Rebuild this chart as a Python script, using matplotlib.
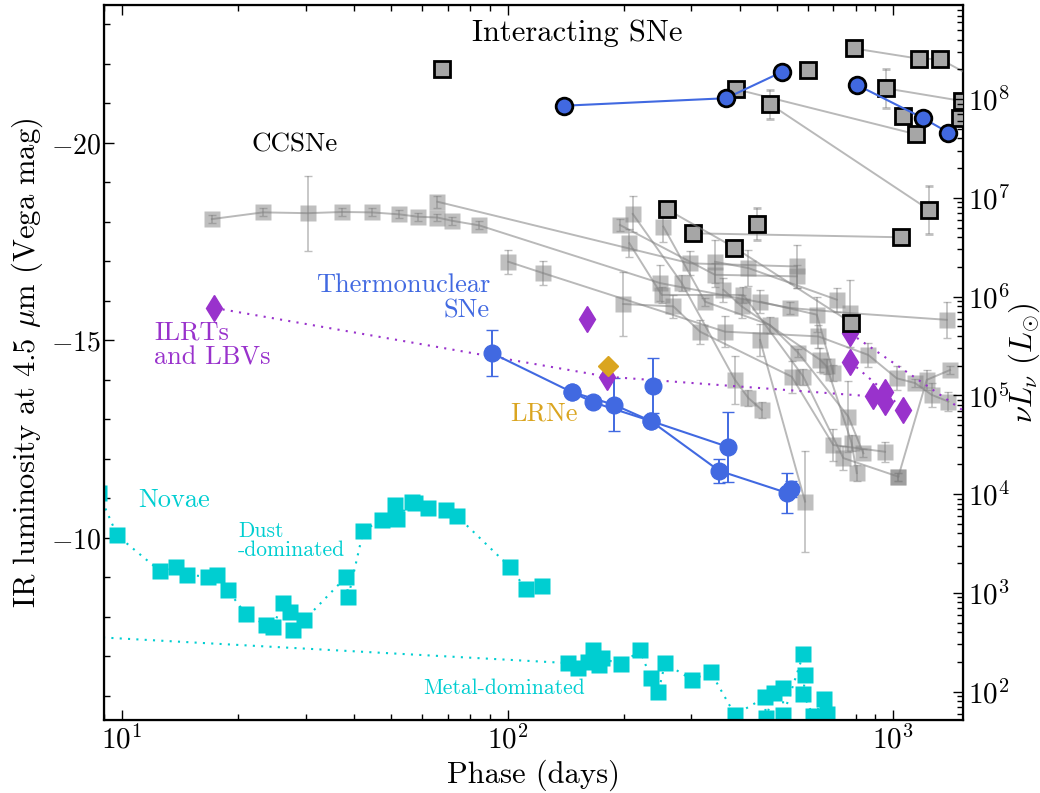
#!/usr/bin/env python3
"""Mid-IR (4.5 micron) light curves of transients vs phase, with a
second axis in nu L_nu.  Values read off the reference figure."""
import matplotlib
matplotlib.use('Agg')
import matplotlib.pyplot as plt
from matplotlib.ticker import MultipleLocator, FuncFormatter

plt.rcParams['font.family'] = 'serif'
plt.rcParams['font.serif'] = ['cmr10']
plt.rcParams['mathtext.fontset'] = 'cm'
plt.rcParams['axes.formatter.use_mathtext'] = True

#--------------------------- data --------------------------------------
# core-collapse SNe: (days, mag, err) per object
ccsn_tracks = [
    ([17.1, 23.2, 30.3, 37.3, 44.4, 52.4, 58.5, 65.8, 71.6, 84.5, 248.7, 540.5, 773.6, 1378],
     [-18.07, -18.24, -18.22, -18.25, -18.24, -18.19, -18.13, -18.11, -18.03, -17.91, -16.45, -15.82, -15.69, -15.52],
     [0.1, 0.1, 0.95, 0.1, 0.1, 0.1, 0.1, 0.1, 0.1, 0.1, 0.45, 0.15, 0.85, 0.45]),
    ([65.8, 297.4, 562.6], [-18.51, -16.95, -16.87], [0.15, 0.3, 0.55]),
    ([100.5, 123.9, 366.6, 640.2, 862.8, 1022, 1140, 1260, 1392],
     [-16.99, -16.70, -15.22, -15.10, -14.63, -14.04, -13.92, -13.62, -13.45],
     [0.3, 0.3, 0.4, 0.3, 0.3, 0.3, 0.1, 0.3, 0.25]),
    ([211.3, 283.1, 389, 421.4, 456.5], [-18.20, -16.45, -14.0, -13.54, -13.24], [0.45, 0.2, 0.6, 0.2, 0.2]),
    ([207, 251.2, 409, 585.3, 743, 1032], [-17.46, -16.15, -16.15, -14.08, -12.02, -11.55], [0.35, 0.2, 0.2, 0.2, 0.3, 0.1]),
    ([253.7, 325.3, 479.7, 568.1, 765.6, 837.5], [-17.88, -15.98, -15.39, -14.68, -13.07, -12.14], [0.4, 0.1, 0.2, 0.1, 0.9, 0.1]),
    ([195.8, 345.3, 562.6], [-17.92, -16.66, -16.62], [0.15, 0.3, 0.3]),
    ([345.3, 421.4, 714.5], [-16.99, -16.83, -16.03], [0.55, 0.45, 0.3]),
    ([199.7, 269.3, 315.8, 546.1, 700, 953.5], [-15.92, -15.86, -15.22, -14.08, -12.35, -12.18], [0.8, 0.3, 0.3, 0.4, 0.4, 0.25]),
    ([362.9, 405, 646.6, 673, 781, 805], [-16.28, -15.86, -14.51, -14.34, -12.40, -11.64], [0.3, 0.3, 0.3, 0.2, 0.2, 0.2]),
    ([451.9, 634.1, 700], [-15.98, -15.65, -14.17], [0.3, 0.45, 0.2]),
    ([451.9, 591.2], [-15.01, -10.92], [0.4, 1.27]),
    ([1032, 1223, 1406], [-11.55, -14.00, -14.25], [0.1, 0.25, 0.1]),
]

# interacting SNe
interacting_tracks = [
    ([390.8, 1145], [-21.36, -20.22], [0.1, 0.1]),
    ([479.7, 1242], [-20.98, -18.30], [0.37, 0.6]),
    ([792, 1168, 1324, 1700], [-22.39, -22.13, -22.12, -21.55], [0.1, 0.1, 0.1, 0.1]),
    ([959, 1510], [-21.38, -21.06], [0.5, 0.1]),
    ([303.4, 1047], [-17.71, -17.61], [0.1, 0.1]),
    ([258.8, 387.6, 778], [-18.32, -17.35, -15.45], [0.15, 0.1, 0.1]),
    ([67.5], [-21.87], [0.05]),
    ([600.6], [-21.84], [0.05]),
    ([443], [-17.94], [0.4]),
    ([1063], [-20.67], [0.1]),
    ([1492], [-20.63], [0.1]),
]

# SNe Ia-CSM (interacting thermonuclear)
iacsm_tracks = [
    ([140.2, 368.8, 516.4], [-20.94, -21.13, -21.80]),
    ([805, 1194, 1392], [-21.47, -20.63, -20.26]),
]

# thermonuclear SNe
ia_tracks = [
    ([91.0, 146.8, 188.9, 235.2, 374], [-14.68, -13.69, -13.37, -12.96, -12.30], [0.57, 0.1, 0.67, 0.1, 0.89]),
    ([146.8, 167, 235.2, 353.8, 530, 542.7], [-13.69, -13.43, -12.96, -11.70, -11.14, -11.24], [0.1, 0.1, 0.1, 0.3, 0.5, 0.2]),
    ([238.9], [-13.85], [0.7]),
]

# ILRTs and LBVs
ilrt_tracks = [
    ([17.36, 181.5, 889], [-15.82, -14.08, -13.58]),
    ([773.6, 1700], [-15.18, -12.9]),
    ([773.6, 953, 1063], [-14.46, -13.70, -13.24]),
    ([161.1], [-15.54]),
    ([953], [-13.45]),
]

# luminous red novae
lrn_days = [182.6]
lrn_mags = [-14.35]

# novae
nova_dust_days = [8.7, 9.72, 12.55, 13.80, 14.77, 16.74, 17.61, 18.80, 20.94, 23.59, 24.60,
                  26.12, 27.28, 27.82, 29.71, 38.11, 38.64, 42.26, 47.18, 51.07, 51.58,
                  56.43, 57.55, 62.31, 69.27, 73.83, 101.5, 111.7, 122.7]
nova_dust_mags = [-11.13, -10.06, -9.16, -9.26, -9.06, -9.02, -9.06, -8.68, -8.07, -7.80, -7.74,
                  -8.35, -8.13, -7.67, -7.92, -9.01, -8.51, -10.18, -10.46, -10.84, -10.47,
                  -10.92, -10.89, -10.75, -10.71, -10.56, -9.26, -8.70, -8.77]
nova_metal_days = [6.0, 143.8, 152.7, 162.1, 167.0, 173.0, 175.6, 197.0, 220.7, 235.2, 246.1,
                   256.2, 300.5, 336.6, 389.0, 465.6, 467.6, 491.3, 517.6, 519.4, 585.3,
                   591.2, 585.3, 621.4, 663.4, 673.0]
nova_metal_mags = [-7.57, -6.83, -6.70, -6.87, -7.16, -6.78, -6.95, -6.80, -7.15, -6.45, -6.09,
                   -6.83, -6.41, -6.60, -5.52, -5.96, -5.44, -6.08, -6.19, -5.52, -7.06,
                   -6.53, -6.04, -5.48, -5.92, -5.54]

XLIM = (8.98, 1519)
YLIM = (-5.39, -23.49)


def mag_to_lum(m):
    '''Absolute 4.5 micron mag -> nu L_nu in solar units.'''
    return 10 ** (5 + (-13.608 - m) / 2.5)


#--------------------------- plot --------------------------------------
fig = plt.figure(figsize=(10.4, 7.93), dpi=100)
ax = fig.add_axes([0.1, 0.0921, 0.826, 0.9016])

gray_line = (0.5, 0.5, 0.5, 0.55)
gray_err = (0.5, 0.5, 0.5, 0.5)

for d, m, e in ccsn_tracks:
    ax.errorbar(d, m, yerr=e, fmt='s-', color=gray_line, mfc=(0.5, 0.5, 0.5, 0.5),
                mec='none', ms=11.5, ecolor=gray_err, elinewidth=1.2, capsize=3, lw=1.4)

for d, m, e in interacting_tracks:
    ax.errorbar(d, m, yerr=e, fmt='s-', color=gray_line, mfc='0.65', mec='k', mew=2,
                ms=11, ecolor=gray_err, elinewidth=1.2, capsize=3, lw=1.4, zorder=4)

for d, m, e in ia_tracks:
    ax.errorbar(d, m, yerr=e, fmt='o-', color='royalblue', mec='royalblue', ms=12,
                ecolor='royalblue', elinewidth=1.4, capsize=4, lw=1.5, zorder=3)

for d, m in iacsm_tracks:
    ax.plot(d, m, 'o-', color='royalblue', mec='k', mew=2, ms=12, lw=1.5, zorder=5)

for d, m in ilrt_tracks:
    ax.plot(d, m, marker='d', ls=(0, (1, 3)), color='darkorchid', ms=13, lw=1.5, zorder=3)

ax.plot(lrn_days, lrn_mags, 'D', color='goldenrod', ms=10, zorder=3)

ax.plot(nova_dust_days, nova_dust_mags, marker='s', ls=(0, (1, 3)), color='darkturquoise',
        mec='none', ms=12, lw=1.5)
ax.plot(nova_metal_days, nova_metal_mags, marker='s', ls=(0, (1, 3)), color='darkturquoise',
        mec='none', ms=12, lw=1.5)

# Class labels
ax.text(0.5506, 0.961, 'Interacting SNe', transform=ax.transAxes, fontsize=22,
        ha='center', va='center', color='k')
ax.text(0.2224, 0.804, 'CCSNe', transform=ax.transAxes, fontsize=19.5,
        ha='center', va='center', color='k')
ax.text(0.4494, 0.590, 'Thermonuclear\nSNe', transform=ax.transAxes, fontsize=19,
        ha='right', va='center', color='royalblue', linespacing=1.1)
ax.text(0.0582, 0.524, 'ILRTs\nand LBVs', transform=ax.transAxes, fontsize=19,
        ha='left', va='center', color='darkorchid', linespacing=1.1)
ax.text(0.4726, 0.429, 'LRNe', transform=ax.transAxes, fontsize=19,
        ha='left', va='center', color='goldenrod')
ax.text(0.0396, 0.3077, 'Novae', transform=ax.transAxes, fontsize=19,
        ha='left', va='center', color='darkturquoise')
ax.text(0.156, 0.2503, 'Dust\n-dominated', transform=ax.transAxes, fontsize=15.5,
        ha='left', va='center', color='darkturquoise', linespacing=0.95)
ax.text(0.3714, 0.0448, 'Metal-dominated', transform=ax.transAxes, fontsize=15.5,
        ha='left', va='center', color='darkturquoise')

# Axes
ax.set_xscale('log')
ax.set_xlim(*XLIM)
ax.set_ylim(*YLIM)
ax.yaxis.set_major_locator(MultipleLocator(5))
ax.yaxis.set_minor_locator(MultipleLocator(1))
ax.yaxis.set_major_formatter(FuncFormatter(lambda v, pos: r'$-$%d' % abs(v) if v < 0 else '%d' % v))
ax.tick_params(which='both', direction='in', top=True, right=False, labelsize=21)
ax.tick_params(axis='y', labelsize=20, pad=2)
ax.tick_params(which='major', length=7, width=1)
ax.tick_params(which='minor', length=4, width=1)
for sp in ax.spines.values():
    sp.set_linewidth(1.6)
ax.set_xlabel('Phase (days)', fontsize=22)
ax.set_ylabel(r'IR luminosity at 4.5 $\mu$m (Vega mag)', fontsize=22, labelpad=4)

ax2 = ax.twinx()
ax2.set_yscale('log')
ax2.set_ylim(mag_to_lum(YLIM[0]), mag_to_lum(YLIM[1]))
ax2.tick_params(which='both', direction='in', labelsize=21)
ax2.tick_params(which='major', length=7, width=1)
ax2.tick_params(which='minor', length=4, width=1)
ax2.set_ylabel(r'$\nu L_{\nu}$ ($L_{\odot}$)', fontsize=22, labelpad=-3)

fig.savefig('out.png', dpi=100)
